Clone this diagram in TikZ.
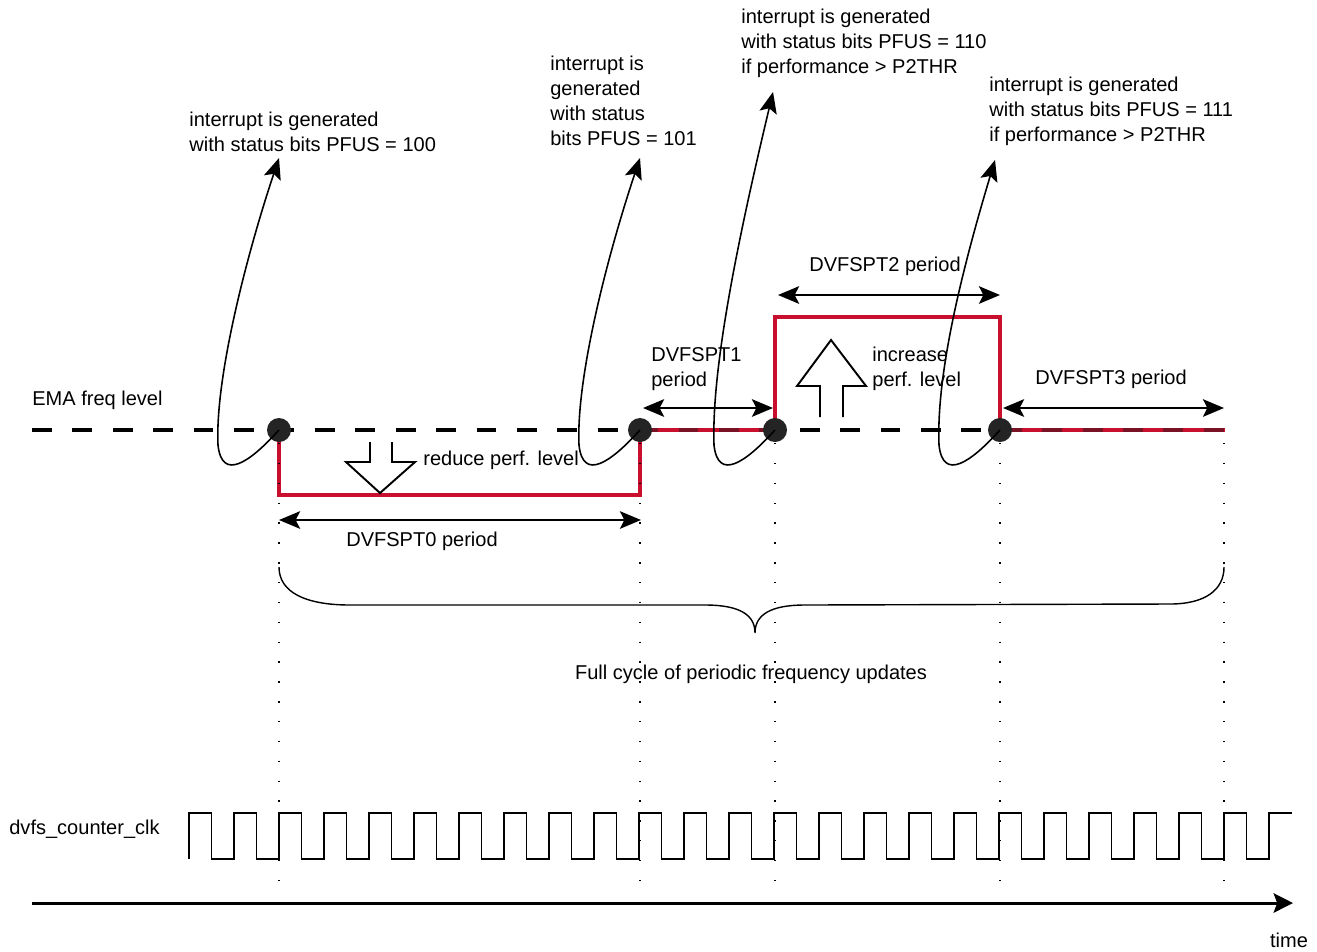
\documentclass[tikz,border=0pt]{standalone}
\usepackage{fontspec}
\setmainfont{Liberation Sans}
\usetikzlibrary{arrows.meta}
\definecolor{perfred}{RGB}{200,16,46}
\definecolor{perfdark}{RGB}{120,18,36}

\begin{document}
\begin{tikzpicture}[x=0.02cm,y=-0.02cm,
  every node/.style={font=\fontsize{11.4}{14.2}\selectfont, inner sep=0pt},
  lbl/.style={anchor=west, align=left},
  dim/.style={{Stealth[length=12pt,width=10pt,inset=2.5pt]}-{Stealth[length=12pt,width=10pt,inset=2.5pt]}, line width=1.1pt},
  irq/.style={-{Stealth[length=12pt,width=10pt,inset=2.5pt]}, line width=0.9pt},
  level/.style={line width=2.8pt, dash pattern=on 11.3pt off 11.7pt},
  perf/.style={perfred, line width=1.8pt},
  guide/.style={line width=0.8pt, dash pattern=on 0.8pt off 10.5pt},
  hollow/.style={line width=1.1pt, line join=miter},
  upd/.style={circle, fill=black!86, minimum size=0.48cm}]
\useasboundingbox (0,0) rectangle (1317,951);

% EMA level and the perf. level changes
\draw[level] (32,430) -- (1225,430);
\draw[perf] (279,430) -- (279,495) -- (640,495) -- (640,430) -- (775,430)
  -- (775,317) -- (1000,317) -- (1000,430) -- (1225,430);
\begin{scope}
  \clip (640,420) rectangle (775,440) (1000,420) rectangle (1226,440);
  \draw[level, perfdark, line width=2.2pt] (32,430) -- (1225,430);
\end{scope}

\foreach \x in {279,640,775,1000,1224}
  \draw[guide] (\x,443) -- (\x,886);

\foreach \x/\n in {279/upd0,640/upd1,775/upd2,1000/upd3}
  \node[upd] (\n) at (\x,430) {};

\node[lbl] (ema) at (32,400) {EMA freq level};

% interrupts
\node[lbl] (irq0) at (189,132) {interrupt is generated\\with status bits PFUS = 100};
\node[lbl] (irq1) at (550,101) {interrupt is\\generated\\with status\\bits PFUS = 101};
\node[lbl] (irq2) at (741,43) {interrupt is generated\\with status bits PFUS = 110\\if performance > P2THR};
\node[lbl] (irq3) at (989,111) {interrupt is generated\\with status bits PFUS = 111\\if performance > P2THR};
\coordinate (tip0) at (279,158);
\coordinate (tip1) at (640,158);
\coordinate (tip2) at (773,92);
\coordinate (tip3) at (995,160);

\draw[irq] (upd0.center) .. controls (250,462) and (222,482) .. (218,445)
  .. controls (215,380) and (245,260) .. (tip0);
\draw[irq] (upd1.center) .. controls (611,462) and (583,482) .. (579,445)
  .. controls (576,380) and (606,260) .. (tip1);
\draw[irq] (upd2.center) .. controls (746,462) and (718,482) .. (714,445)
  .. controls (711,360) and (745,210) .. (tip2);
\draw[irq] (upd3.center) .. controls (971,462) and (943,482) .. (939,445)
  .. controls (936,370) and (965,260) .. (tip3);

% reduce / increase
\draw[hollow] (370,442) -- (370,462) -- (346,462) -- (380,493) -- (415,462) -- (392,462) -- (392,442);
\node[lbl] (reduce) at (423,460) {reduce perf. level};
\draw[hollow] (820,417) -- (820,386) -- (797,386) -- (831,340) -- (866,386) -- (843,386) -- (843,417);
\node[lbl] (increase) at (872,369) {increase\\perf. level};

% periods
\draw[dim] (279,520) -- (641,520);
\node (per0) at (422,541) {DVFSPT0 period};
\draw[dim] (643,408) -- (773,408);
\node[lbl] (per1) at (651,369) {DVFSPT1\\period};
\draw[dim] (778,295) -- (1000,295);
\node (per2) at (885,266) {DVFSPT2 period};
\draw[dim] (1003,408) -- (1224,408);
\node[lbl] (per3) at (1035,379) {DVFSPT3 period};

% full cycle
\draw[line width=0.8pt] (279,567) .. controls (279,592) and (305,605) .. (350,605) -- (705,605)
  .. controls (740,605) and (755,615) .. (755,633) .. controls (755,615) and (770,605) .. (805,605)
  -- (1170,604) .. controls (1205,604) and (1224,590) .. (1224,567);
\node (cycle) at (751,674) {Full cycle of periodic frequency updates};

% counter clock
\node[anchor=east] (clk) at (160,829) {dvfs\_counter\_clk};
\draw[line width=1.1pt] (189,859) \foreach \k in {0,...,23} {
  -- ++(0,-46) -- ++(22.5,0) -- ++(0,46) -- ++(22.5,0) } -- ++(0,-46) -- ++(22.5,0);

% time axis
\draw[line width=1.7pt, -{Stealth[length=11pt,width=11pt,inset=2pt]}] (32,903) -- (1293,903);
\node (time) at (1289,940) {time};
\end{tikzpicture}
\end{document}
